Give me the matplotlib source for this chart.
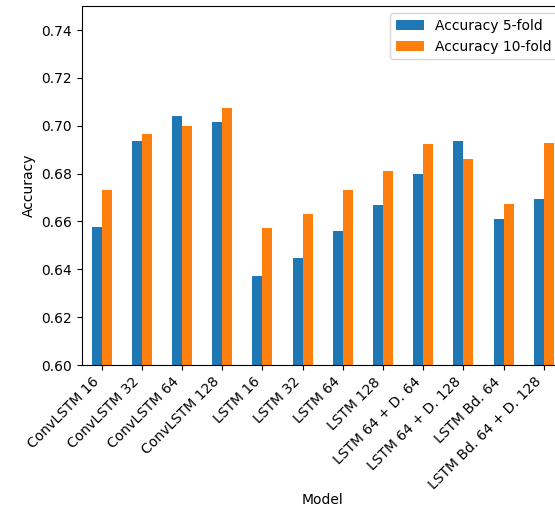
import matplotlib
matplotlib.use("Agg")
import matplotlib.pyplot as plt
import pandas as pd

# Cross-validation accuracy per model
models = ["ConvLSTM 16", "ConvLSTM 32", "ConvLSTM 64", "ConvLSTM 128",
          "LSTM 16", "LSTM 32", "LSTM 64", "LSTM 128",
          "LSTM 64 + D. 64", "LSTM 64 + D. 128", "LSTM Bd. 64",
          "LSTM Bd. 64 + D. 128"]
acc_5fold = [0.6577, 0.6936, 0.7041, 0.7015, 0.6372, 0.6447,
             0.6560, 0.6669, 0.6798, 0.6936, 0.6610, 0.6694]
acc_10fold = [0.6731, 0.6965, 0.6999, 0.7074, 0.6572, 0.6631,
              0.6731, 0.6811, 0.6923, 0.6861, 0.6673, 0.6928]

df = pd.DataFrame({"Accuracy 5-fold": acc_5fold,
                   "Accuracy 10-fold": acc_10fold}, index=models)
df.index.name = "Model"

fig = plt.figure(figsize=(5.55, 5.07), dpi=100)
ax = fig.add_axes([0.147, 0.280, 0.869, 0.708])

df.plot.bar(ax=ax)
ax.set_ylim(0.60, 0.75)
ax.set_ylabel("Accuracy")
ax.set_xlabel("Model", labelpad=0)
plt.setp(ax.get_xticklabels(), rotation=45, ha="right")
ax.legend(loc="upper right")

fig.savefig("out.png", dpi=100)
